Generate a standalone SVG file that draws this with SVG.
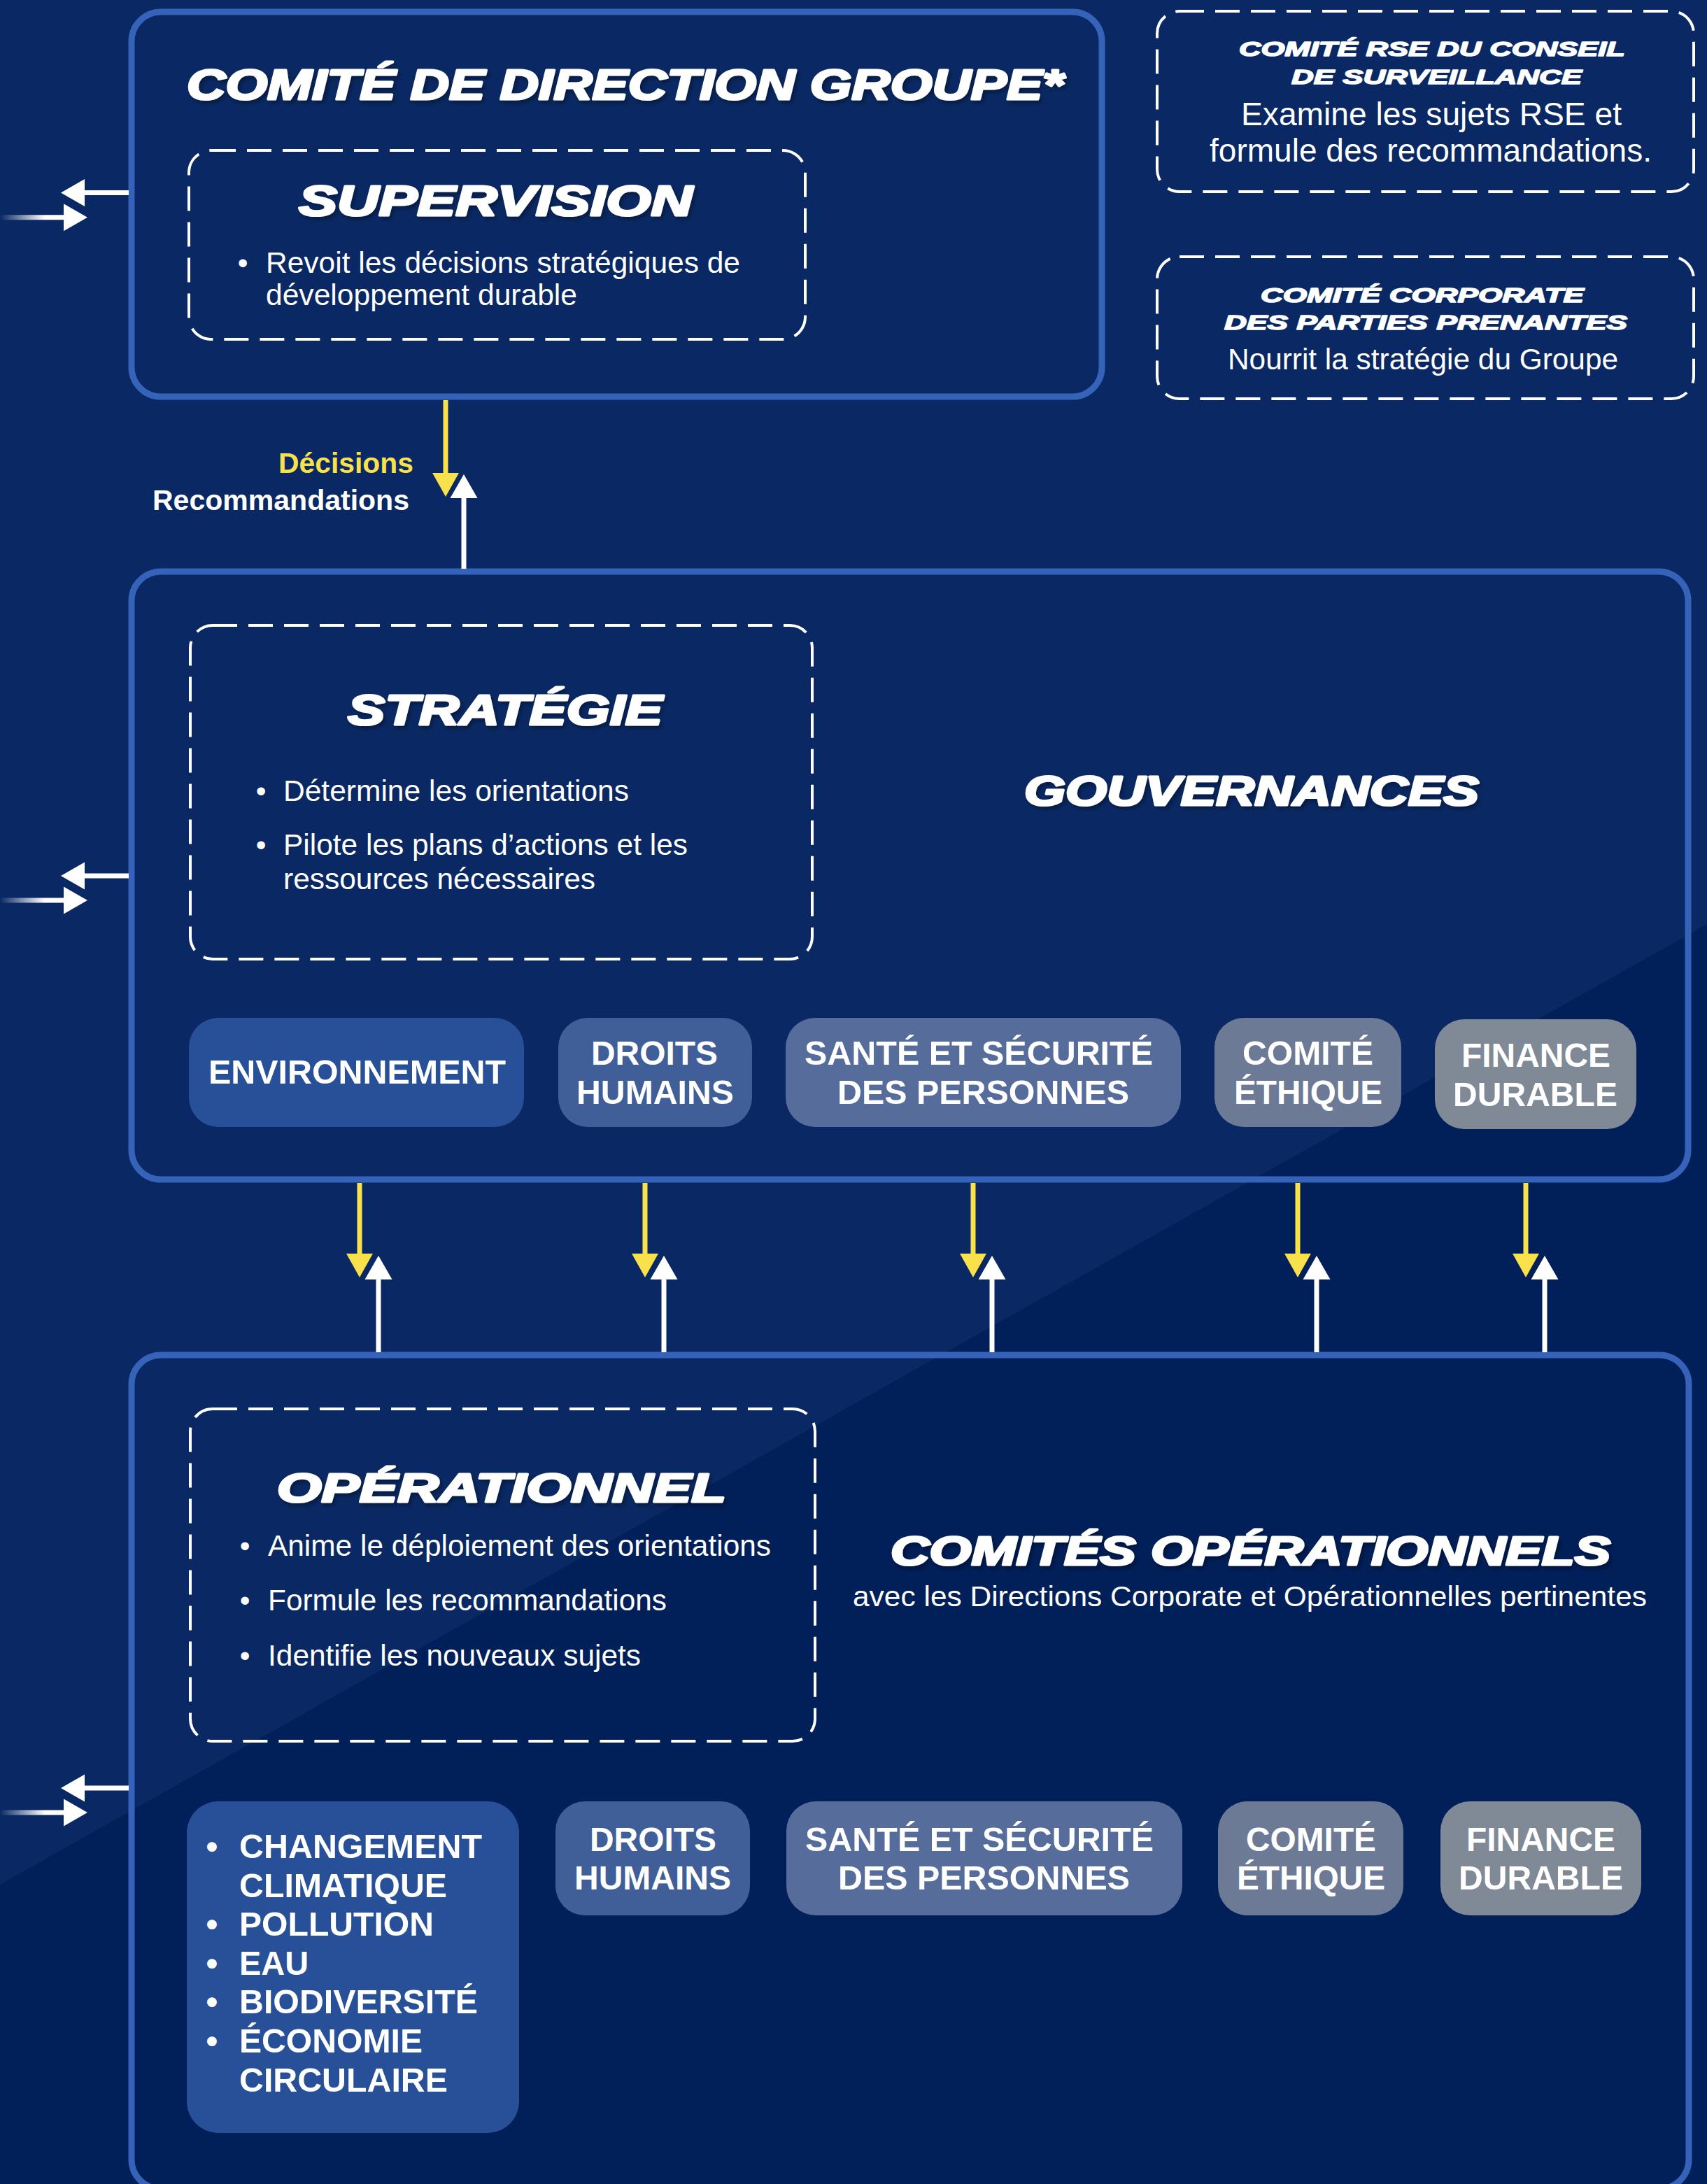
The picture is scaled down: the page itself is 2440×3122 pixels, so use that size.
<svg xmlns="http://www.w3.org/2000/svg" width="2440" height="3122" viewBox="0 0 2440 3122">
<style>
.box{fill:none;stroke:#3563b9;stroke-width:9}
.dash{fill:none;stroke:#fff;stroke-width:4;stroke-dasharray:35 16}
.h{font-family:"Liberation Sans",Arial,sans-serif;font-weight:bold;font-style:italic;fill:#fff;stroke:#fff;stroke-width:3.2;stroke-linejoin:round}
.hs{font-family:"Liberation Sans",Arial,sans-serif;font-weight:bold;font-style:italic;fill:#fff;stroke:#fff;stroke-width:1.6;stroke-linejoin:round}
.t{font-family:"Liberation Sans",Arial,sans-serif;fill:#fff;font-size:42px}
.p{font-family:"Liberation Sans",Arial,sans-serif;font-weight:bold;fill:#fff;font-size:48px}
.yl{stroke:#f8e14b;stroke-width:7;fill:none}
.wl{stroke:#fff;stroke-width:7;fill:none}
.c1{fill:#285098}.c2{fill:#405e98}.c3{fill:#566c9b}.c4{fill:#6c7a96}.c5{fill:#808a96}
</style>
<defs>
<filter id="sh" x="-5%" y="-30%" width="110%" height="160%"><feDropShadow dx="3" dy="4" stdDeviation="3" flood-color="#000" flood-opacity="0.35"/></filter>
<marker id="ay" viewBox="0 -20 36 40" markerWidth="36" markerHeight="40" refX="0" refY="0" orient="auto" markerUnits="userSpaceOnUse"><path d="M0,-19 L34,0 L0,19 z" fill="#f8e14b"/></marker>
<marker id="aw" viewBox="0 -20 36 40" markerWidth="36" markerHeight="40" refX="0" refY="0" orient="auto" markerUnits="userSpaceOnUse"><path d="M0,-19.5 L34,0 L0,19.5 z" fill="#fff"/></marker>
<linearGradient id="fade" gradientUnits="userSpaceOnUse" x1="0" y1="0" x2="92" y2="0"><stop offset="0" stop-color="#fff" stop-opacity="0"/><stop offset="0.7" stop-color="#fff" stop-opacity="1"/></linearGradient>
</defs>
<rect width="2440" height="3122" fill="#0a2964"/>
<polygon points="2440,1321 2440,3122 0,3122 0,2694" fill="#011f59"/>

<g id="comite-direction-groupe">
<rect class="box" x="188" y="17" width="1387" height="550" rx="42"/>
<text class="h" x="267" y="142" font-size="62" textLength="1253" lengthAdjust="spacingAndGlyphs" filter="url(#sh)">COMITÉ DE DIRECTION GROUPE*</text>
</g>
<g id="supervision">
<rect class="dash" x="270" y="215" width="881" height="270" rx="32"/>
<text class="h" x="427" y="308" font-size="62" textLength="563" lengthAdjust="spacingAndGlyphs" filter="url(#sh)">SUPERVISION</text>
<text class="t" x="347" y="390" text-anchor="middle">•</text>
<text class="t" x="380" y="390" textLength="678" lengthAdjust="spacingAndGlyphs">Revoit les décisions stratégiques de</text>
<text class="t" x="380" y="436" textLength="445" lengthAdjust="spacingAndGlyphs">développement durable</text>
</g>
<g id="comite-rse">
<rect class="dash" x="1654" y="16" width="767" height="258" rx="32"/>
<text class="hs" x="1771" y="80" font-size="30" textLength="552" lengthAdjust="spacingAndGlyphs">COMITÉ RSE DU CONSEIL</text>
<text class="hs" x="1846" y="120" font-size="30" textLength="415" lengthAdjust="spacingAndGlyphs">DE SURVEILLANCE</text>
<text class="t" x="1774" y="179" style="font-size:46px" textLength="544" lengthAdjust="spacingAndGlyphs">Examine les sujets RSE et</text>
<text class="t" x="1729" y="231" style="font-size:46px" textLength="632" lengthAdjust="spacingAndGlyphs">formule des recommandations.</text>
</g>
<g id="comite-corporate">
<rect class="dash" x="1654" y="367" width="767" height="203" rx="32"/>
<text class="hs" x="1802" y="432" font-size="30" textLength="462" lengthAdjust="spacingAndGlyphs">COMITÉ CORPORATE</text>
<text class="hs" x="1750" y="471" font-size="30" textLength="576" lengthAdjust="spacingAndGlyphs">DES PARTIES PRENANTES</text>
<text class="t" x="1755" y="528" textLength="558" lengthAdjust="spacingAndGlyphs">Nourrit la stratégie du Groupe</text>
</g>

<g id="gouvernances">
<rect class="box" x="188" y="817" width="2225" height="869" rx="42"/>
<text class="h" x="1464" y="1151" font-size="60" textLength="650" lengthAdjust="spacingAndGlyphs" filter="url(#sh)">GOUVERNANCES</text>
</g>
<g id="strategie">
<rect class="dash" x="272" y="894" width="889" height="477" rx="32"/>
<text class="h" x="497" y="1036" font-size="62" textLength="450" lengthAdjust="spacingAndGlyphs" filter="url(#sh)">STRATÉGIE</text>
<text class="t" x="373" y="1145" text-anchor="middle">•</text>
<text class="t" x="405" y="1145" textLength="494" lengthAdjust="spacingAndGlyphs">Détermine les orientations</text>
<text class="t" x="373" y="1222" text-anchor="middle">•</text>
<text class="t" x="405" y="1222" textLength="578" lengthAdjust="spacingAndGlyphs">Pilote les plans d’actions et les</text>
<text class="t" x="405" y="1271" textLength="446" lengthAdjust="spacingAndGlyphs">ressources nécessaires</text>
</g>
<g id="gov-environnement">
<rect class="c1" x="270" y="1455" width="479" height="156" rx="42"/>
<text class="p" x="298" y="1549" textLength="425" lengthAdjust="spacingAndGlyphs">ENVIRONNEMENT</text>
</g>
<g id="gov-droits-humains">
<rect class="c2" x="798" y="1455" width="277" height="156" rx="42"/>
<text class="p" x="845" y="1522" textLength="181" lengthAdjust="spacingAndGlyphs">DROITS</text>
<text class="p" x="824" y="1578" textLength="225" lengthAdjust="spacingAndGlyphs">HUMAINS</text>
</g>
<g id="gov-sante-securite">
<rect class="c3" x="1123" y="1455" width="565" height="156" rx="42"/>
<text class="p" x="1150" y="1522" textLength="498" lengthAdjust="spacingAndGlyphs">SANTÉ ET SÉCURITÉ</text>
<text class="p" x="1197" y="1578" textLength="417" lengthAdjust="spacingAndGlyphs">DES PERSONNES</text>
</g>
<g id="gov-comite-ethique">
<rect class="c4" x="1736" y="1455" width="267" height="156" rx="42"/>
<text class="p" x="1776" y="1522" textLength="187" lengthAdjust="spacingAndGlyphs">COMITÉ</text>
<text class="p" x="1764" y="1578" textLength="212" lengthAdjust="spacingAndGlyphs">ÉTHIQUE</text>
</g>
<g id="gov-finance-durable">
<rect class="c5" x="2051" y="1457" width="288" height="157" rx="42"/>
<text class="p" x="2089" y="1525" textLength="213" lengthAdjust="spacingAndGlyphs">FINANCE</text>
<text class="p" x="2077" y="1581" textLength="235" lengthAdjust="spacingAndGlyphs">DURABLE</text>
</g>

<g id="comites-operationnels">
<rect class="box" x="188" y="1937" width="2226" height="1192" rx="42"/>
<text class="h" x="1273" y="2237" font-size="58" textLength="1029" lengthAdjust="spacingAndGlyphs" filter="url(#sh)">COMITÉS OPÉRATIONNELS</text>
<text class="t" x="1219" y="2296" style="font-size:41px" textLength="1135" lengthAdjust="spacingAndGlyphs">avec les Directions Corporate et Opérationnelles pertinentes</text>
</g>
<g id="operationnel">
<rect class="dash" x="272" y="2014" width="893" height="475" rx="32"/>
<text class="h" x="396" y="2147" font-size="58" textLength="642" lengthAdjust="spacingAndGlyphs" filter="url(#sh)">OPÉRATIONNEL</text>
<text class="t" x="350" y="2224" text-anchor="middle">•</text>
<text class="t" x="383" y="2224" textLength="719" lengthAdjust="spacingAndGlyphs">Anime le déploiement des orientations</text>
<text class="t" x="350" y="2302" text-anchor="middle">•</text>
<text class="t" x="383" y="2302" textLength="570" lengthAdjust="spacingAndGlyphs">Formule les recommandations</text>
<text class="t" x="350" y="2381" text-anchor="middle">•</text>
<text class="t" x="383" y="2381" textLength="533" lengthAdjust="spacingAndGlyphs">Identifie les nouveaux sujets</text>
</g>
<g id="ops-environnement">
<rect class="c1" x="267" y="2575" width="475" height="474" rx="45"/>
<text class="p" x="303" y="2656" text-anchor="middle">•</text>
<text class="p" x="342" y="2656" textLength="347" lengthAdjust="spacingAndGlyphs">CHANGEMENT</text>
<text class="p" x="342" y="2712" textLength="297" lengthAdjust="spacingAndGlyphs">CLIMATIQUE</text>
<text class="p" x="303" y="2767" text-anchor="middle">•</text>
<text class="p" x="342" y="2767" textLength="278" lengthAdjust="spacingAndGlyphs">POLLUTION</text>
<text class="p" x="303" y="2823" text-anchor="middle">•</text>
<text class="p" x="342" y="2823" textLength="99" lengthAdjust="spacingAndGlyphs">EAU</text>
<text class="p" x="303" y="2878" text-anchor="middle">•</text>
<text class="p" x="342" y="2878" textLength="341" lengthAdjust="spacingAndGlyphs">BIODIVERSITÉ</text>
<text class="p" x="303" y="2934" text-anchor="middle">•</text>
<text class="p" x="342" y="2934" textLength="262" lengthAdjust="spacingAndGlyphs">ÉCONOMIE</text>
<text class="p" x="342" y="2990" textLength="298" lengthAdjust="spacingAndGlyphs">CIRCULAIRE</text>
</g>
<g id="ops-droits-humains">
<rect class="c2" x="794" y="2575" width="278" height="163" rx="42"/>
<text class="p" x="843" y="2646" textLength="181" lengthAdjust="spacingAndGlyphs">DROITS</text>
<text class="p" x="821" y="2701" textLength="224" lengthAdjust="spacingAndGlyphs">HUMAINS</text>
</g>
<g id="ops-sante-securite">
<rect class="c3" x="1124" y="2575" width="566" height="163" rx="42"/>
<text class="p" x="1151" y="2646" textLength="498" lengthAdjust="spacingAndGlyphs">SANTÉ ET SÉCURITÉ</text>
<text class="p" x="1198" y="2701" textLength="417" lengthAdjust="spacingAndGlyphs">DES PERSONNES</text>
</g>
<g id="ops-comite-ethique">
<rect class="c4" x="1741" y="2575" width="265" height="163" rx="42"/>
<text class="p" x="1781" y="2646" textLength="186" lengthAdjust="spacingAndGlyphs">COMITÉ</text>
<text class="p" x="1768" y="2701" textLength="212" lengthAdjust="spacingAndGlyphs">ÉTHIQUE</text>
</g>
<g id="ops-finance-durable">
<rect class="c5" x="2059" y="2575" width="287" height="163" rx="42"/>
<text class="p" x="2096" y="2646" textLength="213" lengthAdjust="spacingAndGlyphs">FINANCE</text>
<text class="p" x="2085" y="2701" textLength="235" lengthAdjust="spacingAndGlyphs">DURABLE</text>
</g>

<g id="connectors">
<path class="yl" d="M637,572 V676" marker-end="url(#ay)"/>
<path class="wl" d="M663,813 V712" marker-end="url(#aw)"/>
<text x="398" y="676" font-family="Liberation Sans, Arial, sans-serif" font-weight="bold" font-size="41" fill="#f8e14b" textLength="193" lengthAdjust="spacingAndGlyphs">Décisions</text>
<text x="218" y="729" font-family="Liberation Sans, Arial, sans-serif" font-weight="bold" font-size="41" fill="#fff" textLength="367" lengthAdjust="spacingAndGlyphs">Recommandations</text>
<path class="yl" d="M514,1691 V1792" marker-end="url(#ay)"/>
<path class="wl" d="M541,1933 V1829" marker-end="url(#aw)"/>
<path class="yl" d="M922,1691 V1792" marker-end="url(#ay)"/>
<path class="wl" d="M949,1933 V1829" marker-end="url(#aw)"/>
<path class="yl" d="M1391,1691 V1792" marker-end="url(#ay)"/>
<path class="wl" d="M1418,1933 V1829" marker-end="url(#aw)"/>
<path class="yl" d="M1855,1691 V1792" marker-end="url(#ay)"/>
<path class="wl" d="M1882,1933 V1829" marker-end="url(#aw)"/>
<path class="yl" d="M2181,1691 V1792" marker-end="url(#ay)"/>
<path class="wl" d="M2208,1933 V1829" marker-end="url(#aw)"/>
<path class="wl" d="M184,275.5 H121" marker-end="url(#aw)"/>
<path d="M0,310.7 H91" stroke="url(#fade)" stroke-width="7" fill="none" marker-end="url(#aw)"/>
<path class="wl" d="M184,1252 H121" marker-end="url(#aw)"/>
<path d="M0,1287 H91" stroke="url(#fade)" stroke-width="7" fill="none" marker-end="url(#aw)"/>
<path class="wl" d="M184,2556 H121" marker-end="url(#aw)"/>
<path d="M0,2591 H91" stroke="url(#fade)" stroke-width="7" fill="none" marker-end="url(#aw)"/>
</g>
</svg>
